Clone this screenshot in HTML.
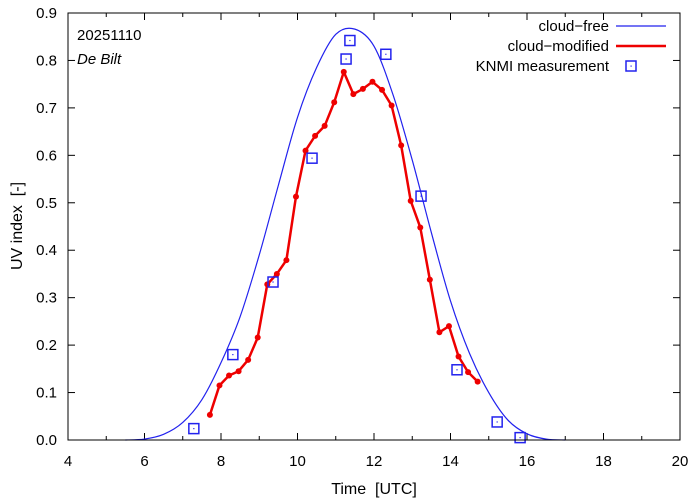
<!DOCTYPE html>
<html><head><meta charset="utf-8"><style>
html,body{margin:0;padding:0;background:#fff;}
svg{display:block;font-family:"Liberation Sans",sans-serif;}
text{white-space:pre;}
</style></head><body>
<svg id="chart" width="694" height="501" viewBox="0 0 694 501">
<rect x="0" y="0" width="694" height="501" fill="#fff"/>
<g id="ticks"></g>
<g id="series"></g>
<rect x="68" y="13" width="612" height="427" fill="none" stroke="#000" stroke-width="1"/>
<text x="77" y="40" font-size="15">20251110</text>
<text x="77" y="64" font-size="15" font-style="italic">De Bilt</text>
<text x="374" y="494" font-size="16" text-anchor="middle">Time  [UTC]</text>
<text transform="translate(22,226) rotate(-90)" font-size="16" text-anchor="middle">UV index  [-]</text>
<g>
<g>
<text x="609" y="31" font-size="15" text-anchor="end">cloud−free</text>
<line x1="616" y1="26" x2="666" y2="26" stroke="#2222ee" stroke-width="1.2"/></g>
<g>
<text x="609" y="51" font-size="15" text-anchor="end">cloud−modified</text>
<line x1="616" y1="46" x2="666" y2="46" stroke="#ee0000" stroke-width="2.5"/></g>
<g>
<text x="609" y="71" font-size="15" text-anchor="end">KNMI measurement</text>
<rect x="626" y="61" width="10" height="10" fill="none" stroke="#2222ee" stroke-width="1.5"/>
<rect x="630.5" y="65.5" width="1.2" height="1.2" fill="#2222ee"/></g>
</g>
</svg>
<script>
const xTicks = [4,6,8,10,12,14,16,18,20];
const yTicks = [0,0.1,0.2,0.3,0.4,0.5,0.6,0.7,0.8,0.9];
const clearT = [5.5,6,6.5,7,7.5,8,8.5,9,9.5,10,10.5,11,11.5,12,12.5,13,13.5,14,14.5,15,15.5,16,16.5,17];
const clearV = [0,0.002,0.012,0.037,0.085,0.163,0.26,0.39,0.537,0.68,0.785,0.855,0.866,0.83,0.727,0.59,0.437,0.293,0.182,0.10,0.042,0.013,0.002,0];
const cloudT = [7.71,7.96,8.21,8.46,8.71,8.96,9.21,9.46,9.71,9.96,10.21,10.46,10.71,10.96,11.21,11.46,11.71,11.96,12.21,12.46,12.71,12.96,13.21,13.46,13.71,13.96,14.21,14.46,14.71];
const cloudV = [0.053,0.115,0.136,0.145,0.169,0.216,0.328,0.350,0.379,0.513,0.610,0.641,0.662,0.712,0.776,0.729,0.740,0.755,0.738,0.705,0.621,0.504,0.448,0.338,0.227,0.240,0.176,0.143,0.123];
const measT = [7.29,8.31,9.36,10.38,11.27,11.37,12.31,13.23,14.17,15.22,15.82];
const measV = [0.024,0.180,0.333,0.594,0.803,0.842,0.813,0.514,0.148,0.038,0.005];

const NS='http://www.w3.org/2000/svg';
const X0=68,X1=680,Y0=440,Y1=13;
const sx=t=>X0+(t-4)/(20-4)*(X1-X0);
const sy=v=>Y0-v/0.9*(Y0-Y1);
function mk(tag,attrs,parent){const e=document.createElementNS(NS,tag);for(const k in attrs)e.setAttribute(k,attrs[k]);parent.appendChild(e);return e;}
const tg=document.getElementById('ticks'), sg=document.getElementById('series');
xTicks.forEach((t,i)=>{
  const x=sx(t);
  mk('line',{x1:x,y1:Y0,x2:x,y2:Y0-7,stroke:'#000'},tg);
  mk('line',{x1:x,y1:Y1,x2:x,y2:Y1+7,stroke:'#000'},tg);
  if(i<xTicks.length-1){
    const xm=sx(t+1);
    mk('line',{x1:xm,y1:Y0,x2:xm,y2:Y0-4,stroke:'#000'},tg);
    mk('line',{x1:xm,y1:Y1,x2:xm,y2:Y1+4,stroke:'#000'},tg);
  }
  const l=mk('text',{x:x,y:466,'font-size':15,'text-anchor':'middle'},tg);
  l.textContent=t;
  
  
});
yTicks.forEach(v=>{
  const y=sy(v);
  mk('line',{x1:X0,y1:y,x2:X0+7,y2:y,stroke:'#000'},tg);
  mk('line',{x1:X1,y1:y,x2:X1-7,y2:y,stroke:'#000'},tg);
  const l=mk('text',{x:57,y:y+5,'font-size':15,'text-anchor':'end'},tg);
  l.textContent=v.toFixed(1);
  
  
});
const pts=clearT.map((t,i)=>[sx(t),sy(clearV[i])]);
let d='M'+pts[0][0]+','+pts[0][1];
for(let i=0;i<pts.length-1;i++){
  const p0=pts[Math.max(0,i-1)],p1=pts[i],p2=pts[i+1],p3=pts[Math.min(pts.length-1,i+2)];
  d+=' C'+(p1[0]+(p2[0]-p0[0])/6)+','+(p1[1]+(p2[1]-p0[1])/6)+' '+(p2[0]-(p3[0]-p1[0])/6)+','+(p2[1]-(p3[1]-p1[1])/6)+' '+p2[0]+','+p2[1];
}
const cf=mk('path',{d:d,fill:'none',stroke:'#2222ee','stroke-width':1.2},sg);


const cm=mk('polyline',{points:cloudT.map((t,i)=>sx(t)+','+sy(cloudV[i])).join(' '),fill:'none',stroke:'#ee0000','stroke-width':2.5,'stroke-linejoin':'round'},sg);


cloudT.forEach((t,i)=>{
  const c=mk('circle',{cx:sx(t),cy:sy(cloudV[i]),r:3,fill:'#ee0000'},sg);
  
  
});
measT.forEach((t,i)=>{
  const x=sx(t),y=sy(measV[i]);
  const r=mk('rect',{x:x-5,y:y-5,width:10,height:10,fill:'none',stroke:'#2222ee','stroke-width':1.5},sg);
  
  
  mk('rect',{x:x-0.6,y:y-0.6,width:1.2,height:1.2,fill:'#2222ee'},sg);
});
</script>
</body></html>
